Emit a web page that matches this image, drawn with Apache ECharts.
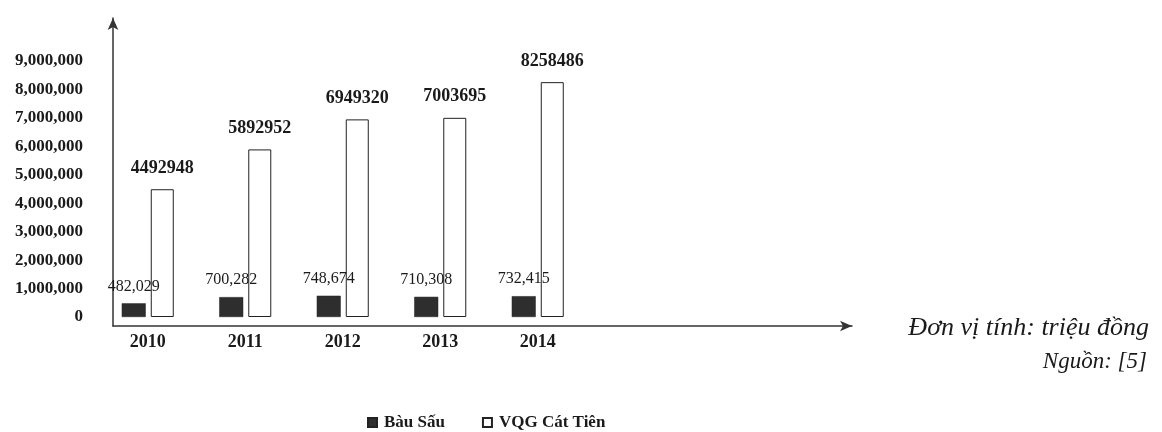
<!DOCTYPE html>
<html>
<head>
<meta charset="utf-8">
<script src="https://cdn.jsdelivr.net/npm/echarts@6/dist/echarts.min.js"></script>
<style>
html,body{margin:0;padding:0;background:#fff;}
#chart{width:1162px;height:432px;}
</style>
</head>
<body>
<div id="chart"></div>
<script>
const years = ['2010', '2011', '2012', '2013', '2014'];
const bauSau = [482029, 700282, 748674, 710308, 732415];
const vqgCatTien = [4492948, 5892952, 6949320, 7003695, 8258486];
const yTicks = [0, 1000000, 2000000, 3000000, 4000000, 5000000, 6000000, 7000000, 8000000, 9000000];
const seriesNames = ['Bàu Sấu', 'VQG Cát Tiên'];
const unitLines = ['Đơn vị tính: triệu đồng', 'Nguồn: [5]'];

const Y_MIN = -316000, Y_MAX = 10514000;
const serif = '"Liberation Serif", "DejaVu Serif", serif';
const fmt = v => v.toLocaleString('en-US');
const noteStyle = size => ({
  fontFamily: serif, fontStyle: 'italic', fontWeight: 'normal',
  fontSize: size, color: '#1a1a1a'
});

const chart = echarts.init(document.getElementById('chart'));
chart.setOption({
  animation: false,
  backgroundColor: '#ffffff',
  title: [
    { text: unitLines[0], right: 13, top: 315, padding: 0, textStyle: noteStyle(26) },
    { text: unitLines[1], right: 15, top: 350, padding: 0, textStyle: noteStyle(23) }
  ],
  legend: {
    left: 362, top: 409,
    itemWidth: 9, itemHeight: 9, itemGap: 37,
    icon: 'rect',
    textStyle: { fontFamily: serif, fontWeight: 'bold', fontSize: 17, color: '#1a1a1a', padding: [0, 0, 0, 2] },
    data: seriesNames
  },
  grid: [
    { left: 99, width: 487.5, top: 18, bottom: 106 },
    { left: 113, right: 310, top: 18, bottom: 106 }
  ],
  xAxis: [
    {
      type: 'category', gridIndex: 0, data: years,
      axisLine: { show: false }, axisTick: { show: false },
      axisLabel: { margin: 7, fontFamily: serif, fontWeight: 'bold', fontSize: 18, color: '#1a1a1a' }
    },
    {
      type: 'value', gridIndex: 1, min: 0, max: 1,
      axisLine: { show: true, onZero: false, symbol: ['none', 'arrow'], symbolSize: [8, 12],
        lineStyle: { color: '#333', width: 1.5 } },
      axisTick: { show: false }, axisLabel: { show: false }, splitLine: { show: false }
    }
  ],
  yAxis: [
    {
      type: 'value', gridIndex: 0, min: Y_MIN, max: Y_MAX,
      axisLine: { show: false }, axisTick: { show: false },
      axisLabel: { show: false }, splitLine: { show: false }
    },
    {
      type: 'value', gridIndex: 1, min: Y_MIN, max: Y_MAX,
      axisLine: { show: true, onZero: false, symbol: ['none', 'arrow'], symbolSize: [8, 12],
        lineStyle: { color: '#333', width: 1.5 } },
      axisTick: { show: false },
      splitLine: { show: false },
      axisLabel: {
        customValues: yTicks,
        margin: 30,
        formatter: v => fmt(v),
        fontFamily: serif, fontWeight: 'bold', fontSize: 17, color: '#1a1a1a'
      }
    }
  ],
  series: [
    {
      name: seriesNames[0], type: 'bar', xAxisIndex: 0, yAxisIndex: 0,
      data: bauSau, barWidth: 24, barGap: '21%',
      itemStyle: { color: '#2e2e2e', borderColor: '#222', borderWidth: 0.5 },
      label: {
        show: true, position: 'top', distance: 9,
        formatter: p => fmt(p.value),
        fontFamily: serif, fontSize: 16, color: '#1a1a1a'
      }
    },
    {
      name: seriesNames[1], type: 'bar', xAxisIndex: 0, yAxisIndex: 0,
      data: vqgCatTien, barWidth: 23,
      itemStyle: { color: '#ffffff', borderColor: '#222', borderWidth: 1 },
      label: {
        show: true, position: 'top', distance: 12,
        formatter: p => String(p.value),
        fontFamily: serif, fontWeight: 'bold', fontSize: 18, color: '#1a1a1a'
      }
    }
  ]
});
</script>
</body>
</html>
